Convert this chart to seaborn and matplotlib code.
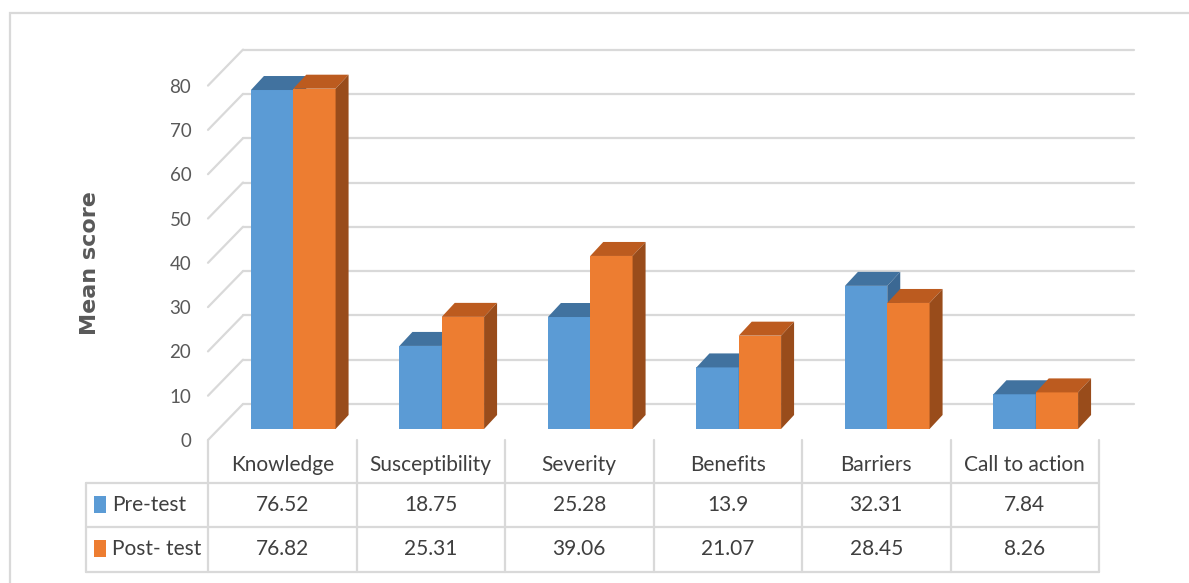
import matplotlib.pyplot as plt
import matplotlib.patches as mpatches
import matplotlib.lines as mlines
import matplotlib.transforms as mtransforms
import seaborn as sns
import pandas as pd

categories = ['Knowledge', 'Susceptibility', 'Severity', 'Benefits', 'Barriers', 'Call to action']
series = ['Pre-test', 'Post- test']
pre_test = [76.52, 18.75, 25.28, 13.9, 32.31, 7.84]
post_test = [76.82, 25.31, 39.06, 21.07, 28.45, 8.26]
y_ticks = [0, 10, 20, 30, 40, 50, 60, 70, 80]

W, H = 1189, 583
sns.set_style('white')
plt.rcParams['font.family'] = ['Lato', 'DejaVu Sans']

df = pd.DataFrame({
    'Category': categories * 2,
    'Group': [series[0]] * len(categories) + [series[1]] * len(categories),
    'Score': pre_test + post_test,
})

front_cols = ['#5B9BD5', '#ED7D31']
top_cols = ['#41729F', '#BC5B1F']
side_cols = ['#3B6893', '#994C1B']
grid_col = '#D9D9D9'


def fx(x):
    return x / W


def fy(y):
    return 1 - y / H


fig = plt.figure(figsize=(W / 100, H / 100), dpi=100)

# front plane of the 3-D box, in pixels
left, right, base, top = 208, 1099, 440, 85.6
ax = fig.add_axes([fx(left), fy(base), (right - left) / W, (base - top) / H])
sns.barplot(data=df, x='Category', y='Score', hue='Group', palette=front_cols,
            width=0.57, gap=0, saturation=1, errorbar=None, legend=False,
            linewidth=0, ax=ax)
ax.set_xlim(-0.5, len(categories) - 0.5)
ax.set_ylim(0, 80)

# pixel offsets -> data offsets
px_x = (right - left) / len(categories)
px_y = (base - top) / 80


def off(dx, dy):
    return dx / px_x, dy / px_y


bar_off = off(11, 11)
depth = off(13, 14)
wall = off(35, 36)

# back wall gridlines and the slanted side-wall lines
x_lo, x_hi = -0.5, len(categories) - 0.5
for v in y_ticks:
    ax.plot([x_lo + wall[0], x_hi + wall[0]], [v + wall[1]] * 2,
            color=grid_col, lw=1.6, zorder=0, clip_on=False)
    ax.plot([x_lo, x_lo + wall[0]], [v, v + wall[1]],
            color=grid_col, lw=1.6, zorder=0, clip_on=False)

# give the bars depth
for k, cont in enumerate(ax.containers):
    for p in cont:
        x0 = p.get_x() + bar_off[0]
        y0 = bar_off[1]
        w, h = p.get_width(), p.get_height()
        p.set_x(x0)
        p.set_y(y0)
        p.set_zorder(2 + k)
        p.set_clip_on(False)
        top_face = [(x0, y0 + h), (x0 + w, y0 + h),
                    (x0 + w + depth[0], y0 + h + depth[1]), (x0 + depth[0], y0 + h + depth[1])]
        side_face = [(x0 + w, y0), (x0 + w + depth[0], y0 + depth[1]),
                     (x0 + w + depth[0], y0 + h + depth[1]), (x0 + w, y0 + h)]
        ax.add_patch(mpatches.Polygon(top_face, closed=True, fc=top_cols[k], ec='none',
                                      zorder=2 + k, clip_on=False))
        ax.add_patch(mpatches.Polygon(side_face, closed=True, fc=side_cols[k], ec='none',
                                      zorder=2 + k, clip_on=False))

ax.set_yticks(y_ticks)
ax.set_xticks([])
ax.set_xlabel('')
ax.set_ylabel('')
ax.tick_params(axis='y', length=0, pad=12, labelsize=13.5, labelcolor='#595959')
for s in ax.spines.values():
    s.set_visible(False)
ax.patch.set_visible(False)

fig.text(fx(90), fy(263), 'Mean score', rotation=90, ha='center', va='center',
         fontsize=16, fontweight='bold', color='#595959', family='DejaVu Sans')

# data table under the plot
tr = mtransforms.blended_transform_factory(ax.transData, fig.transFigure)
for i in range(len(categories) + 1):
    xb = x_lo + i
    fig.add_artist(mlines.Line2D([xb, xb], [fy(440), fy(572)], transform=tr,
                                 color=grid_col, lw=1.6))
fig.add_artist(mlines.Line2D([fx(86), fx(86)], [fy(483), fy(572)], color=grid_col, lw=1.6))
for yy in [483, 527, 572]:
    fig.add_artist(mlines.Line2D([fx(86), fx(right)], [fy(yy), fy(yy)], color=grid_col, lw=1.6))

txt_col = '#3F3F3F'
for i, cat in enumerate(categories):
    fig.text(i, fy(465), cat, transform=tr, ha='center', va='center', fontsize=15, color=txt_col)
    fig.text(i, fy(505), f'{pre_test[i]:g}', transform=tr, ha='center', va='center',
             fontsize=15, color=txt_col)
    fig.text(i, fy(549), f'{post_test[i]:g}', transform=tr, ha='center', va='center',
             fontsize=15, color=txt_col)

for k, (name, yc) in enumerate(zip(series, [505, 549])):
    fig.add_artist(mpatches.Rectangle((fx(94), fy(yc + 8)), 12 / W, 17 / H,
                                      transform=fig.transFigure, fc=front_cols[k], ec='none'))
    fig.text(fx(112), fy(yc), name, ha='left', va='center', fontsize=15, color=txt_col)

# outer chart border (right/bottom edges run off the picture)
fig.add_artist(mpatches.Rectangle((fx(10), fy(700)), 1.2, (700 - 13) / H,
                                  transform=fig.transFigure, fill=False, ec=grid_col, lw=1.6))

fig.savefig('out.png', dpi=100)
plt.close(fig)
